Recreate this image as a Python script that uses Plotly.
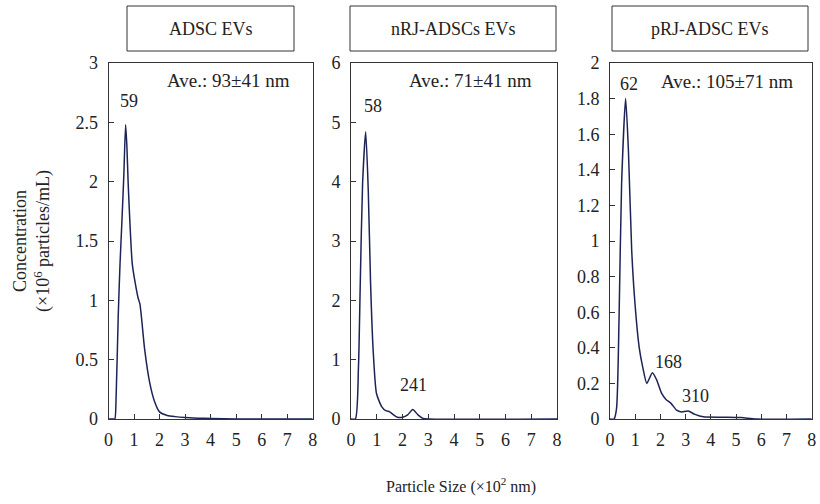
import plotly.graph_objects as go

W, H = 820, 504

# ---- data (x in ×10² nm, y in ×10⁶ particles/mL) ----
adsc_x = [0, 0.2, 0.25, 0.3, 0.38, 0.45, 0.51, 0.6, 0.67, 0.72, 0.77, 0.84, 0.93, 1.06, 1.16, 1.23,
          1.29, 1.42, 1.62, 1.8, 2.0, 2.3, 2.6, 3.0, 3.5, 4.0, 5.0, 6.0, 8.0]
adsc_y = [0, 0, 0.0, 0.2, 0.86, 1.3, 1.59, 2.05, 2.48, 2.3, 1.99, 1.65, 1.31, 1.13, 1.02, 0.97,
          0.86, 0.58, 0.30, 0.15, 0.06, 0.03, 0.02, 0.012, 0.007, 0.004, 0.001, 0, 0]

nrj_x = [0, 0.17, 0.29, 0.36, 0.45, 0.57, 0.67, 0.76, 0.86, 0.99, 1.19, 1.35, 1.5, 1.65, 1.8, 2.0,
         2.2, 2.4, 2.6, 2.8, 3.0, 8.0]
nrj_y = [0, 0, 0.88, 2.29, 3.97, 4.84, 3.86, 2.29, 1.16, 0.43, 0.21, 0.14, 0.12, 0.07, 0.03, 0.03,
         0.07, 0.16, 0.07, 0.01, 0, 0]

prj_x = [0, 0.16, 0.26, 0.36, 0.46, 0.62, 0.73, 0.86, 0.99, 1.16, 1.30, 1.46, 1.68, 1.85, 2.05,
         2.22, 2.42, 2.64, 2.84, 3.1, 3.37, 3.7, 4.5, 5.2, 5.8, 8.0]
prj_y = [0, 0, 0.06, 0.575, 1.32, 1.80, 1.51, 0.95, 0.65, 0.40, 0.29, 0.20, 0.26, 0.22, 0.144,
         0.11, 0.088, 0.05, 0.04, 0.045, 0.026, 0.012, 0.01, 0.008, 0, 0]

titles = ["ADSC EVs", "nRJ-ADSCs EVs", "pRJ-ADSC EVs"]
aves = ["Ave.: 93±41 nm", "Ave.: 71±41 nm", "Ave.: 105±71 nm"]
y_ranges = [3, 6, 2]
y_ticks = [[0, 0.5, 1, 1.5, 2, 2.5, 3],
           [0, 1, 2, 3, 4, 5, 6],
           [0, 0.2, 0.4, 0.6, 0.8, 1, 1.2, 1.4, 1.6, 1.8, 2]]
y_ticklabels = [["0", "0.5", "1", "1.5", "2", "2.5", "3"],
                ["0", "1", "2", "3", "4", "5", "6"],
                ["0", "0.2", "0.4", "0.6", "0.8", "1", "1.2", "1.4", "1.6", "1.8", "2"]]
x_ticks = [0, 1, 2, 3, 4, 5, 6, 7, 8]
peak_labels = [[("59", 129, 101)], [("58", 373, 106), ("241", 413, 385)],
               [("62", 629, 84), ("168", 668, 362), ("310", 695, 396)]]

FONT = "Liberation Serif"
LINE = "#1c2456"
AX = "#333333"
TXT = "#222222"

def px(x):
    return x / W

def py(y):
    return 1 - y / H

panels_px = [(108.5, 312.7), (351, 557), (610, 811.7)]
ytop, ybot = 63, 419
boxes = [(127, 294), (350, 556), (612, 808)]
ave_pos = [(228, 80), (471, 80), (727, 82)]

fig = go.Figure()
series = [(adsc_x, adsc_y), (nrj_x, nrj_y), (prj_x, prj_y)]
for i, (xs, ys) in enumerate(series):
    n = "" if i == 0 else str(i + 1)
    fig.add_trace(go.Scatter(x=xs, y=ys, mode="lines",
                             line=dict(color=LINE, width=1.5, shape="spline", smoothing=0.6),
                             xaxis="x" + n, yaxis="y" + n, showlegend=False, hoverinfo="skip"))
    axcommon = dict(showline=True, linecolor=AX, linewidth=1, mirror=True, ticks="inside", ticklen=5,
                    tickcolor=AX, showgrid=False, zeroline=False, automargin=False,
                    tickfont=dict(family=FONT, size=18, color=TXT))
    l, r = panels_px[i]
    fig.layout["xaxis" + n] = dict(domain=[px(l), px(r)], range=[0, 8], tickvals=x_ticks,
                                   anchor="y" + n, ticklabelstandoff=4, **axcommon)
    fig.layout["yaxis" + n] = dict(domain=[py(ybot), py(ytop)], range=[0, y_ranges[i]],
                                   tickvals=y_ticks[i], ticktext=y_ticklabels[i],
                                   anchor="x" + n, ticklabelstandoff=6, **axcommon)
    bl, br = boxes[i]
    fig.add_shape(type="rect", xref="paper", yref="paper", x0=px(bl), x1=px(br), y0=py(51), y1=py(6),
                  line=dict(color=AX, width=1))
    fig.add_annotation(xref="paper", yref="paper", x=px((bl + br) / 2), y=py(28.5), text=titles[i],
                       xanchor="center", yanchor="middle",
                       showarrow=False, font=dict(family=FONT, size=18, color=TXT))
    ax_, ay_ = ave_pos[i]
    fig.add_annotation(xref="paper", yref="paper", x=px(ax_), y=py(ay_), text=aves[i],
                       xanchor="center", yanchor="middle",
                       showarrow=False, font=dict(family=FONT, size=19, color=TXT))
    for t, tx, ty in peak_labels[i]:
        fig.add_annotation(xref="paper", yref="paper", x=px(tx), y=py(ty), text=t,
                           xanchor="center", yanchor="middle",
                           showarrow=False, font=dict(family=FONT, size=18, color=TXT))

fig.add_annotation(xref="paper", yref="paper", x=px(32), y=py(241), textangle=-90,
                   xanchor="center", yanchor="middle",
                   text="Concentration<br>(×10<sup>6</sup> particles/mL)", showarrow=False,
                   font=dict(family=FONT, size=18, color=TXT))
fig.add_annotation(xref="paper", yref="paper", x=px(461), y=py(485),
                   xanchor="center", yanchor="middle",
                   text="Particle Size (×10<sup>2</sup> nm)", showarrow=False,
                   font=dict(family=FONT, size=16, color=TXT))

fig.update_layout(width=W, height=H, margin=dict(l=0, r=0, t=0, b=0, pad=0, autoexpand=False),
                  paper_bgcolor="white", plot_bgcolor="white", hovermode=False)
fig.write_html("out.html", config={"displayModeBar": False, "staticPlot": True},
               post_script="document.body.style.margin='0';document.body.style.overflow='hidden';")
